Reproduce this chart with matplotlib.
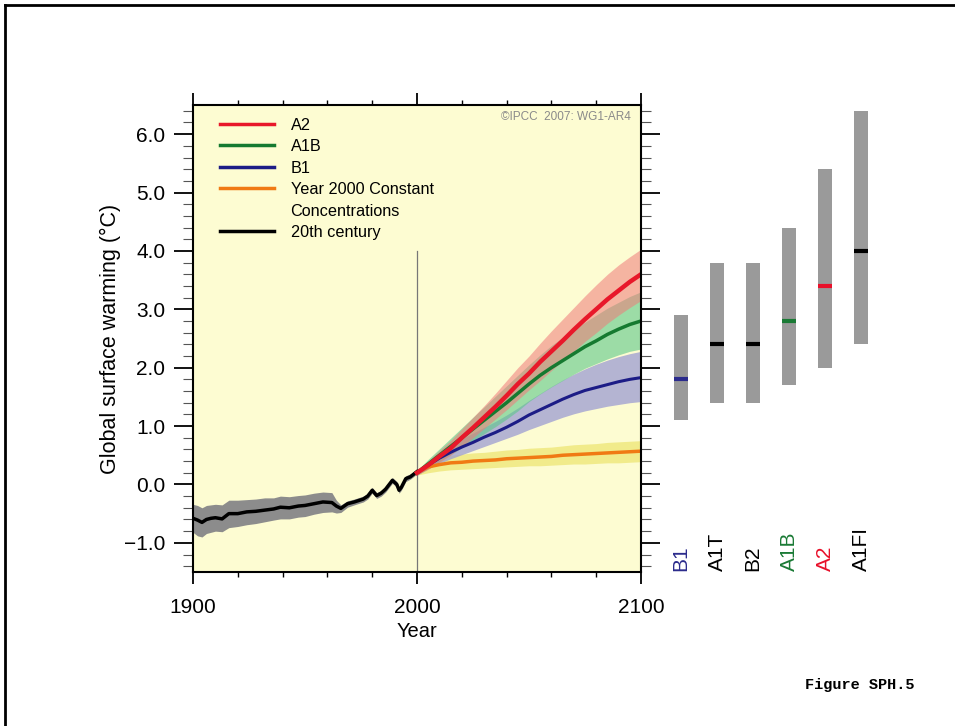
import matplotlib
matplotlib.use("Agg")
import matplotlib.pyplot as plt
from matplotlib.lines import Line2D
from matplotlib.ticker import MultipleLocator, FuncFormatter

plt.rcParams['font.family'] = ['Liberation Sans', 'DejaVu Sans']

# 20th century (multi-model mean and spread)
hist_years = [1900, 1902, 1904, 1906, 1908, 1910, 1913, 1916, 1920, 1924, 1928, 1932,
              1936, 1939, 1943, 1947, 1950, 1954, 1958, 1962, 1964, 1966, 1969, 1972,
              1976, 1978, 1980, 1982, 1984, 1986, 1989, 1991, 1992, 1993, 1995, 1997, 2000]
hist_mean = [-0.58, -0.61, -0.65, -0.60, -0.58, -0.57, -0.59, -0.50, -0.50, -0.47, -0.46, -0.44,
             -0.42, -0.39, -0.40, -0.37, -0.36, -0.33, -0.30, -0.31, -0.37, -0.41, -0.33, -0.30,
             -0.25, -0.20, -0.10, -0.19, -0.15, -0.08, 0.07, 0.00, -0.10, -0.05, 0.10, 0.13, 0.22]
hist_lo = [-0.82, -0.88, -0.90, -0.84, -0.82, -0.80, -0.81, -0.74, -0.72, -0.69, -0.67, -0.64,
           -0.61, -0.59, -0.59, -0.56, -0.55, -0.51, -0.48, -0.47, -0.49, -0.48, -0.39, -0.35,
           -0.30, -0.25, -0.15, -0.24, -0.20, -0.13, 0.02, -0.05, -0.15, -0.10, 0.05, 0.09, 0.18]
hist_hi = [-0.34, -0.36, -0.40, -0.36, -0.35, -0.34, -0.35, -0.27, -0.27, -0.26, -0.25, -0.23,
           -0.23, -0.20, -0.21, -0.19, -0.18, -0.15, -0.13, -0.14, -0.27, -0.35, -0.28, -0.25,
           -0.20, -0.15, -0.05, -0.14, -0.10, -0.03, 0.12, 0.05, -0.05, 0.00, 0.15, 0.18, 0.26]

# 21st century projections
proj_years = [2000, 2005, 2010, 2015, 2020, 2025, 2030, 2035, 2040, 2045, 2050,
              2055, 2060, 2065, 2070, 2075, 2080, 2085, 2090, 2095, 2100]
a2_mean = [0.20, 0.33, 0.48, 0.62, 0.80, 0.97, 1.15, 1.33, 1.52, 1.72, 1.90,
           2.10, 2.28, 2.46, 2.65, 2.83, 3.00, 3.17, 3.32, 3.47, 3.60]
a2_lo = [0.16, 0.26, 0.38, 0.50, 0.65, 0.80, 0.96, 1.12, 1.28, 1.45, 1.62,
         1.78, 1.95, 2.12, 2.28, 2.45, 2.60, 2.76, 2.90, 3.03, 3.15]
a2_hi = [0.24, 0.40, 0.58, 0.75, 0.95, 1.15, 1.35, 1.56, 1.78, 2.00, 2.20,
         2.42, 2.63, 2.83, 3.03, 3.23, 3.42, 3.60, 3.76, 3.90, 4.03]
a1b_mean = [0.20, 0.35, 0.50, 0.65, 0.80, 0.95, 1.10, 1.25, 1.40, 1.56, 1.72,
            1.87, 2.00, 2.12, 2.24, 2.36, 2.46, 2.57, 2.66, 2.74, 2.80]
a1b_lo = [0.16, 0.27, 0.39, 0.51, 0.63, 0.75, 0.87, 0.99, 1.12, 1.26, 1.42,
          1.55, 1.67, 1.78, 1.89, 1.99, 2.07, 2.15, 2.22, 2.28, 2.32]
a1b_hi = [0.24, 0.43, 0.61, 0.79, 0.97, 1.15, 1.33, 1.51, 1.69, 1.87, 2.05,
          2.22, 2.38, 2.52, 2.65, 2.78, 2.90, 3.02, 3.12, 3.22, 3.30]
b1_mean = [0.20, 0.33, 0.45, 0.55, 0.64, 0.72, 0.81, 0.89, 0.98, 1.08, 1.19,
           1.28, 1.37, 1.46, 1.54, 1.61, 1.66, 1.71, 1.76, 1.80, 1.83]
b1_lo = [0.16, 0.27, 0.36, 0.44, 0.51, 0.58, 0.65, 0.72, 0.79, 0.86, 0.94,
         1.01, 1.08, 1.15, 1.21, 1.26, 1.30, 1.34, 1.37, 1.40, 1.42]
b1_hi = [0.24, 0.39, 0.54, 0.66, 0.78, 0.88, 0.98, 1.08, 1.19, 1.31, 1.44,
         1.56, 1.68, 1.79, 1.89, 1.98, 2.06, 2.13, 2.19, 2.24, 2.28]
const_mean = [0.20, 0.30, 0.34, 0.37, 0.38, 0.40, 0.41, 0.42, 0.44, 0.45, 0.46,
              0.47, 0.48, 0.50, 0.51, 0.52, 0.53, 0.54, 0.55, 0.56, 0.57]
const_lo = [0.16, 0.20, 0.23, 0.25, 0.26, 0.27, 0.28, 0.29, 0.30, 0.31, 0.32,
            0.32, 0.33, 0.34, 0.35, 0.35, 0.36, 0.37, 0.37, 0.38, 0.39]
const_hi = [0.24, 0.40, 0.46, 0.50, 0.52, 0.54, 0.55, 0.57, 0.59, 0.60, 0.62,
            0.63, 0.64, 0.66, 0.68, 0.69, 0.70, 0.72, 0.73, 0.74, 0.75]

# likely ranges at 2090-2099 per scenario
scenarios = ['B1', 'A1T', 'B2', 'A1B', 'A2', 'A1FI']
best_est = [1.8, 2.4, 2.4, 2.8, 3.4, 4.0]
range_lo = [1.1, 1.4, 1.4, 1.7, 2.0, 2.4]
range_hi = [2.9, 3.8, 3.8, 4.4, 5.4, 6.4]
scen_colors = ['#2b2b8c', 'black', 'black', '#1a7a35', '#e8102a', 'black']

fig = plt.figure(figsize=(9.55, 7.26), dpi=100)

ax = fig.add_axes([0.2021, 0.2121, 0.4691, 0.6433])
ax.set_facecolor('#fdfcd2')

ax.fill_between(hist_years, hist_lo, hist_hi, color='#8c8c8c', lw=0)
ax.fill_between(proj_years, const_lo, const_hi, color='#eee77a', alpha=0.8, lw=0)
ax.fill_between(proj_years, b1_lo, b1_hi, color='#9c9cd2', alpha=0.75, lw=0)
ax.fill_between(proj_years, a1b_lo, a1b_hi, color='#5cc88a', alpha=0.6, lw=0)
ax.fill_between(proj_years, a2_lo, a2_hi, color='#f07a7a', alpha=0.55, lw=0)

ax.axvline(2000, ymin=0, ymax=(4.0 + 1.5) / 8.0, color='#777777', lw=0.9)

ax.plot(hist_years, hist_mean, color='black', lw=2.5)
ax.plot(proj_years, const_mean, color='#f07a14', lw=2.5)
ax.plot(proj_years, b1_mean, color='#1c1c86', lw=2.2)
ax.plot(proj_years, a1b_mean, color='#157a30', lw=2.5)
ax.plot(proj_years, a2_mean, color='#e8182a', lw=3.2)

ax.set_xlim(1900, 2100)
ax.set_ylim(-1.5, 6.5)
ax.set_xticks([1900, 2000, 2100])
ax.xaxis.set_minor_locator(MultipleLocator(20))
ax.yaxis.set_major_locator(MultipleLocator(1.0))
ax.yaxis.set_minor_locator(MultipleLocator(0.2))
ax.yaxis.set_major_formatter(FuncFormatter(lambda v, p: f'{v:.1f}'.replace('-', '\u2212')))
ax.tick_params(axis='x', which='major', direction='out', length=8.5, width=1.3,
               top=True, labelsize=15, pad=10)
ax.tick_params(axis='x', which='minor', direction='out', length=3.6, width=1,
               top=True)
ax.tick_params(axis='y', which='major', direction='out', length=14, width=1.3,
               right=True, labelsize=15, pad=6)
ax.tick_params(axis='y', which='minor', direction='out', length=7, width=0.8,
               right=True, color='#555555')
for s in ax.spines.values():
    s.set_linewidth(1.5)
ax.set_xlabel('Year', fontsize=14.5, labelpad=4)
ax.set_ylabel('Global surface warming (°C)', fontsize=15.5, labelpad=2)

ax.text(0.978, 0.975, '©IPCC  2007: WG1-AR4', transform=ax.transAxes,
        ha='right', va='center', fontsize=8.5, color='#8a8a8a')

handles = [Line2D([], [], color='#e8182a', lw=2.5),
           Line2D([], [], color='#157a30', lw=2.5),
           Line2D([], [], color='#1c1c86', lw=2.5),
           Line2D([], [], color='#f07a14', lw=2.5),
           Line2D([], [], color='none', lw=2.5),
           Line2D([], [], color='black', lw=2.5)]
labels = ['A2', 'A1B', 'B1', 'Year 2000 Constant', 'Concentrations', '20th century']
ax.legend(handles, labels, loc='upper left', bbox_to_anchor=(0.06, 0.973),
          frameon=False, fontsize=11.7, handlelength=3.35, handletextpad=1.0,
          labelspacing=0.4, borderpad=0, borderaxespad=0)

# scenario range bars to the right of the main panel
ax2 = fig.add_axes([663 / 955, 0.2121, 216 / 955, 0.6433])
ax2.set_xlim(-0.5, 5.5)
ax2.set_ylim(-1.5, 6.5)
ax2.axis('off')
xpos = list(range(len(scenarios)))
ax2.bar(xpos, [h - l for h, l in zip(range_hi, range_lo)], bottom=range_lo,
        width=0.39, color='#9a9a9a')
ax2.hlines(best_est, [x - 0.195 for x in xpos], [x + 0.195 for x in xpos],
           colors=scen_colors, lw=3)
for x, name, c in zip(xpos, scenarios, scen_colors):
    ax2.text(x, -1.48, name, rotation=90, ha='center', va='bottom',
             fontsize=15, color=c)

fig.text(0.958, 0.056, 'Figure SPH.5', ha='right', va='center', fontsize=11,
         family='Liberation Mono', weight='bold')

# outer frame (top and left edges)
fig.add_artist(Line2D([0.005, 1.0], [0.993, 0.993], transform=fig.transFigure,
                      color='black', lw=2))
fig.add_artist(Line2D([0.005, 0.005], [0.0, 0.993], transform=fig.transFigure,
                      color='black', lw=2))

fig.savefig('out.png', dpi=100)
